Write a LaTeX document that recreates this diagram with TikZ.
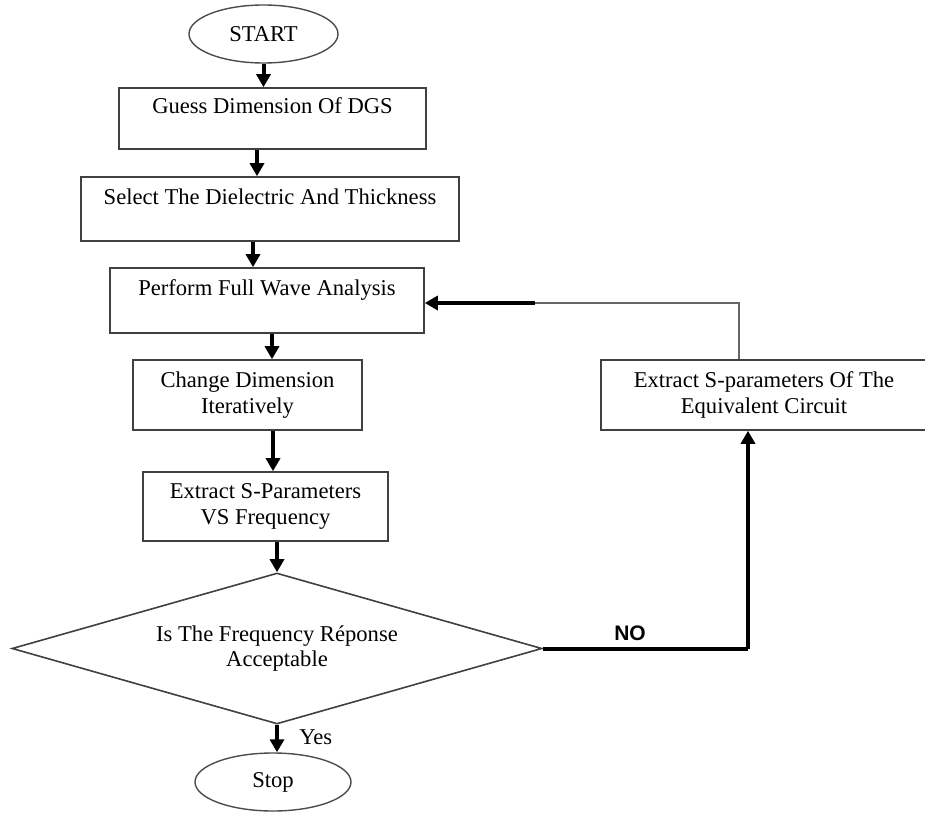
\documentclass[tikz,border=0pt]{standalone}
\usepackage{fontspec}
\setmainfont{Liberation Serif}
\newfontfamily\nofont{Liberation Sans}
\usetikzlibrary{shapes.geometric,arrows.meta}

\begin{document}
\begin{tikzpicture}[x=1pt, y=-1pt,
    every node/.style={font=\fontsize{22.6}{25.5}\selectfont},
    box/.style={draw=black!75, line width=1.6pt, rectangle, align=center, inner sep=0pt},
    term/.style={draw=black!70, line width=1.4pt, ellipse, inner sep=0pt},
    decide/.style={draw=black!75, line width=1.6pt, diamond, aspect=3.5, align=center, inner sep=0pt},
    flow/.style={line width=4pt, -{Triangle[width=14pt,length=13pt]}},
    back/.style={draw=black!60, line width=2.4pt}]
    \useasboundingbox (0,0) rectangle (925,813);

    % Nodes
    \node[term, minimum width=149, minimum height=58] (start) at (263.5,34) {START};
    \node[box, minimum width=307, minimum height=61] (guess) at (272.5,118.5) {Guess Dimension Of DGS\\~};
    \node[box, minimum width=378, minimum height=64] (select) at (270,209) {Select The Dielectric And Thickness\\~};
    \node[box, minimum width=314, minimum height=65] (perform) at (267,300.5) {Perform Full Wave Analysis\\~};
    \node[box, minimum width=229, minimum height=70] (change) at (247.5,395) {Change Dimension\\Iteratively};
    \node[box, minimum width=245, minimum height=69] (sparams) at (265.5,506.5) {Extract S-Parameters\\VS Frequency};
    \node[decide, minimum width=530, minimum height=151] (accept) at (277,648.5) {Is The Frequency Réponse\\Acceptable};
    \node[term, minimum width=156, minimum height=58] (stop) at (273,782) {Stop};
    \node[box, minimum width=326, minimum height=70] (circuit) at (764,395) {Extract S-parameters Of The\\Equivalent Circuit};

    % Main flow
    \draw[flow] (start.south) -- (start.south |- guess.north);
    \draw[flow] ([xshift=-15.5]guess.south) -- ([xshift=-15.5]guess.south |- select.north);
    \draw[flow] ([xshift=-17]select.south) -- ([xshift=-17]select.south |- perform.north);
    \draw[flow] ([xshift=5]perform.south) -- ([xshift=5]perform.south |- change.north);
    \draw[flow] ([xshift=25.5]change.south) -- ([xshift=25.5]change.south |- sparams.north);
    \draw[flow] (accept.north |- sparams.south) -- (accept.north);
    \draw[flow] (accept.south) -- (accept.south |- stop.north) node[pos=0.45, right=17pt] (yes) {Yes};

    % Loop back
    \coordinate (nocorner) at (748,648.5);
    \coordinate (backcorner) at (739,303);
    \coordinate (backthick) at (535,303);
    \draw[line width=4pt] (accept.east) -- (nocorner);
    \node[font=\nofont\bfseries\fontsize{21}{24}\selectfont] (no) at (630,633) {NO};
    \draw[line width=4.5pt, -{Triangle[width=14pt,length=13pt]}] (nocorner) -- (nocorner |- circuit.south);
    \draw[back] (circuit.north -| backcorner) -- (backcorner) -- (backthick);
    \draw[flow] (backthick) -- (backthick -| perform.east);

\end{tikzpicture}
\end{document}
